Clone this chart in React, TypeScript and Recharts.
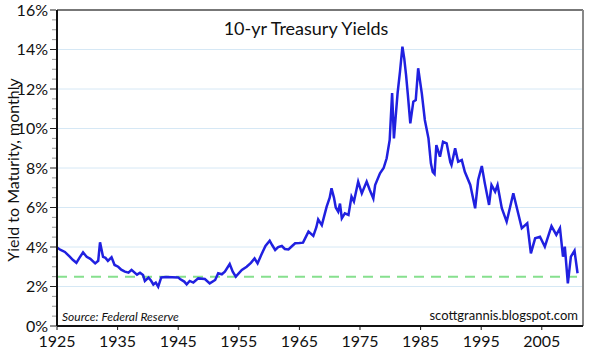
import React from "react";
import {
  LineChart,
  Line,
  XAxis,
  YAxis,
  CartesianGrid,
  ReferenceLine,
} from "recharts";

// Monthly 10-yr yield (decimal year, percent)
const years = [
  1925.0, 1925.6, 1926.3, 1927.1, 1927.6, 1928.2, 1928.7, 1929.3, 1929.9, 1930.5,
  1931.3, 1931.8, 1932.1, 1932.6, 1933.0, 1933.4, 1934.0, 1934.5, 1935.1, 1935.6,
  1936.2, 1936.8, 1937.3, 1938.2, 1938.7, 1939.2, 1939.5, 1940.1, 1940.5, 1940.9,
  1941.3, 1941.7, 1942.2, 1943.0, 1944.0, 1945.0, 1945.3, 1946.0, 1946.4, 1946.9,
  1947.5, 1948.3, 1949.4, 1950.2, 1951.1, 1951.6, 1952.2, 1952.7, 1953.5, 1954.0,
  1954.5, 1955.5, 1956.3, 1957.0, 1957.6, 1958.1, 1958.7, 1959.4, 1960.1, 1960.5,
  1961.0, 1961.5, 1962.1, 1962.6, 1963.2, 1963.8, 1964.3, 1965.0, 1965.6, 1966.5,
  1967.3, 1967.8, 1968.1, 1968.7, 1969.5, 1970.0, 1970.3, 1970.7, 1971.0, 1971.4,
  1971.7, 1972.0, 1972.5, 1973.1, 1973.6, 1974.0, 1974.7, 1975.3, 1976.1, 1976.6,
  1977.2, 1977.5, 1978.3, 1978.9, 1979.4, 1979.9, 1980.3, 1980.6, 1981.2, 1981.6,
  1982.0, 1982.3, 1982.6, 1982.9, 1983.3, 1983.8, 1984.2, 1984.6, 1985.2, 1985.7,
  1986.3, 1986.7, 1987.0, 1987.3, 1987.6, 1988.2, 1988.7, 1989.3, 1989.9, 1990.1,
  1990.7, 1991.2, 1991.8, 1992.3, 1993.2, 1994.0, 1994.5, 1995.1, 1995.6, 1996.3,
  1996.7, 1997.3, 1997.7, 1998.4, 1999.2, 2000.3, 2001.1, 2001.7, 2002.6, 2003.2,
  2003.9, 2004.7, 2005.5, 2006.6, 2007.4, 2008.0, 2008.5, 2008.8, 2009.3, 2009.8,
  2010.4, 2010.9,
];

const yields = [
  3.97, 3.85, 3.75, 3.51, 3.35, 3.2, 3.45, 3.73, 3.5, 3.4,
  3.17, 3.3, 4.24, 3.5, 3.45, 3.3, 3.48, 3.09, 3.0, 2.85,
  2.75, 2.7, 2.84, 2.6, 2.7, 2.58, 2.28, 2.45, 2.3, 2.1,
  2.2, 1.99, 2.46, 2.48, 2.47, 2.46, 2.38, 2.25, 2.11, 2.28,
  2.2, 2.41, 2.38, 2.16, 2.33, 2.67, 2.62, 2.75, 3.14, 2.75,
  2.5, 2.84, 3.0, 3.2, 3.42, 3.17, 3.6, 4.05, 4.32, 4.1,
  3.85, 4.0, 4.05, 3.9, 3.88, 4.05, 4.19, 4.2, 4.22, 4.78,
  4.56, 5.0, 5.4, 5.11, 6.04, 6.5, 6.97, 6.5, 6.0, 5.79,
  6.2, 5.45, 5.7, 5.62, 6.55, 6.3, 7.31, 6.72, 7.31, 6.9,
  6.46, 7.14, 7.73, 8.0, 8.49, 9.42, 11.8, 9.5, 11.78, 12.88,
  14.14, 13.55, 12.71, 11.7, 10.26, 11.36, 11.44, 13.05, 11.78, 10.43,
  9.5, 8.24, 7.8, 7.7, 9.16, 8.57, 9.33, 9.25, 8.3, 8.15,
  9.0, 8.32, 8.4, 7.81, 7.14, 5.96, 7.39, 8.1, 7.22, 6.13,
  7.14, 6.8, 7.14, 5.96, 5.28, 6.72, 5.71, 4.95, 5.2, 3.68,
  4.44, 4.52, 4.02, 5.06, 4.61, 4.95, 3.51, 4.02, 2.16, 3.51,
  3.81, 2.67,
];

const xTicks = [1925, 1935, 1945, 1955, 1965, 1975, 1985, 1995, 2005];
const yTicks = [0, 2, 4, 6, 8, 10, 12, 14, 16];
const yMinorTicks = [
  0.5, 1, 1.5, 2.5, 3, 3.5, 4.5, 5, 5.5, 6.5, 7, 7.5, 8.5, 9, 9.5,
  10.5, 11, 11.5, 12.5, 13, 13.5, 14.5, 15, 15.5,
];
const benchmark = 2.5;
const xMax = 2011.8;

const data = years.map((year, i) => ({ year, yield: yields[i] }));

const FONT = "Lato, 'Noto Sans', sans-serif";

function YTick(props: any) {
  const { x, y, payload } = props;
  const major = yTicks.includes(payload.value);
  return (
    <g>
      <line
        x1={x + 7 - (major ? 6 : 4)}
        x2={x + 7}
        y1={y}
        y2={y}
        stroke={major ? "#222" : "#999"}
        strokeWidth={1}
      />
      {major && (
        <text
          x={x - 1}
          y={y}
          dy="0.36em"
          textAnchor="end"
          fontSize={16}
          fontFamily={FONT}
          fill="#111"
        >
          {payload.value}%
        </text>
      )}
    </g>
  );
}

export default function App() {
  return (
    <div
      style={{
        position: "absolute",
        left: 0,
        top: 0,
        width: 593,
        height: 352,
        background: "#fff",
        fontFamily: FONT,
      }}
    >
      <LineChart
        width={593}
        height={352}
        data={data}
        margin={{ top: 10, right: 10, left: 0, bottom: 0 }}
      >
        <CartesianGrid
          horizontal
          vertical={false}
          stroke="#d6e8f5"
          horizontalValues={[2, 4, 6, 8, 10, 12, 14]}
        />
        <XAxis
          dataKey="year"
          type="number"
          domain={[1925, xMax]}
          ticks={xTicks}
          height={26}
          tickSize={4}
          tickMargin={6}
          axisLine={{ stroke: "#111", strokeWidth: 2 }}
          tickLine={{ stroke: "#111" }}
          tick={{ fontSize: 16, fill: "#111", fontFamily: FONT }}
          allowDataOverflow
        />
        <YAxis
          type="number"
          domain={[0, 16]}
          ticks={[...yTicks, ...yMinorTicks].sort((a, b) => a - b)}
          width={57}
          interval={0}
          tickLine={false}
          axisLine={{ stroke: "#111", strokeWidth: 2 }}
          tick={<YTick />}
        />
        <ReferenceLine y={16} stroke="#777" strokeWidth={2} />
        <ReferenceLine x={xMax} stroke="#888" strokeWidth={2} />
        <ReferenceLine
          y={benchmark}
          stroke="#86e08e"
          strokeWidth={2}
          strokeDasharray="10 7"
        />
        <Line
          type="linear"
          dataKey="yield"
          stroke="#2020e0"
          strokeWidth={2.5}
          dot={false}
          isAnimationActive={false}
        />
      </LineChart>
      <div
        style={{
          position: "absolute",
          left: 12,
          top: 170,
          transform: "translate(-50%, -50%) rotate(-90deg)",
          whiteSpace: "nowrap",
          fontSize: 16,
          color: "#111",
        }}
      >
        Yield to Maturity, monthly
      </div>
      <div
        style={{
          position: "absolute",
          left: 0,
          width: 612,
          top: 17,
          textAlign: "center",
          fontSize: 18,
          color: "#111",
        }}
      >
        10-yr Treasury Yields
      </div>
      <div
        style={{
          position: "absolute",
          left: 62,
          top: 309,
          fontSize: 12,
          fontStyle: "italic",
          color: "#111",
        }}
      >
        Source: Federal Reserve
      </div>
      <div
        style={{
          position: "absolute",
          right: 15,
          top: 307,
          fontSize: 13,
          color: "#111",
        }}
      >
        scottgrannis.blogspot.com
      </div>
    </div>
  );
}
